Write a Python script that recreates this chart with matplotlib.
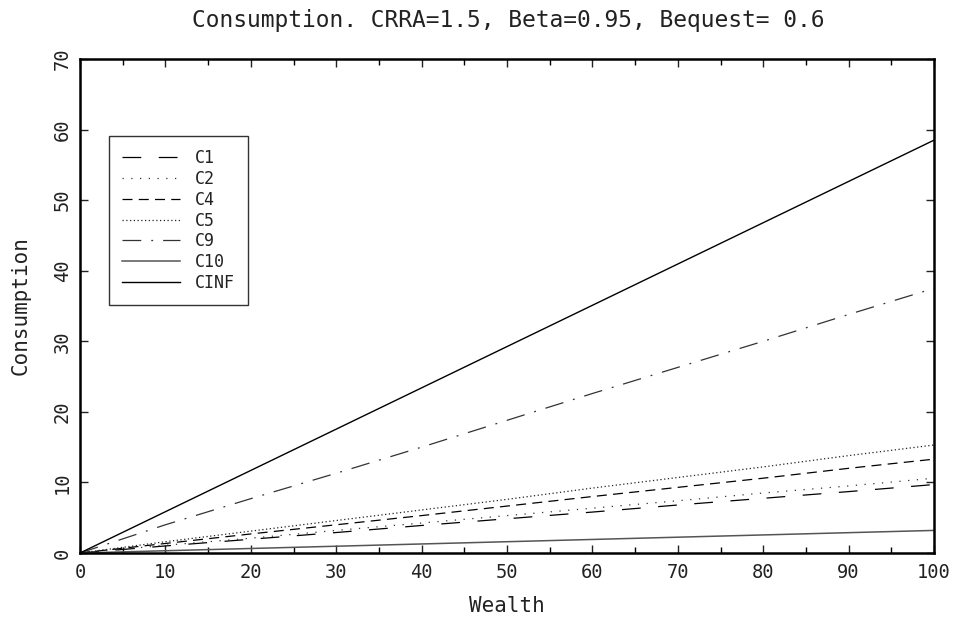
import matplotlib
matplotlib.use("Agg")
import matplotlib.pyplot as plt
from matplotlib.ticker import MultipleLocator

wealth = [0, 10, 20, 30, 40, 50, 60, 70, 80, 90, 100]
c1 = [0, 1.0, 1.95, 2.9, 3.9, 4.85, 5.8, 6.8, 7.75, 8.7, 9.7]
c2 = [0, 1.1, 2.1, 3.2, 4.25, 5.3, 6.35, 7.4, 8.5, 9.5, 10.6]
c4 = [0, 1.35, 2.7, 4.0, 5.3, 6.65, 8.0, 9.3, 10.6, 12.0, 13.3]
c5 = [0, 1.6, 3.1, 4.6, 6.1, 7.6, 9.2, 10.7, 12.2, 13.8, 15.3]
c9 = [0, 4.0, 7.7, 11.3, 15.0, 18.8, 22.6, 26.3, 30.0, 33.8, 37.5]
c10 = [0, 0.32, 0.64, 0.96, 1.28, 1.6, 1.92, 2.24, 2.56, 2.88, 3.2]
cinf = [0, 5.85, 11.7, 17.55, 23.4, 29.25, 35.1, 40.95, 46.8, 52.65, 58.5]

labels = ["C1", "C2", "C4", "C5", "C9", "C10", "CINF"]
title = "Consumption. CRRA=1.5, Beta=0.95, Bequest= 0.6"

plt.rcParams['font.family'] = ['DejaVu Sans Mono', 'DejaVu Sans']

fig = plt.figure(figsize=(9.59, 6.19), dpi=100)
ax = fig.add_axes([80/959, 1 - 553/619, (934-80)/959, (553-59)/619])

styles = [
    dict(color='black', lw=0.9, dashes=(15, 14)),
    dict(color='#333333', lw=0.9, dashes=(1, 6)),
    dict(color='black', lw=0.9, dashes=(8, 5)),
    dict(color='#222222', lw=0.9, dashes=(1, 2)),
    dict(color='#333333', lw=0.9, dashes=(15, 8, 1.5, 8)),
    dict(color='#555555', lw=1.1),
    dict(color='black', lw=1.0),
]
series = [c1, c2, c4, c5, c9, c10, cinf]
for s, lab, st in zip(series, labels, styles):
    ax.plot(wealth, s, label=lab, **st)

ax.set_xlim(0, 100)
ax.set_ylim(0, 70)
ax.xaxis.set_major_locator(MultipleLocator(10))
ax.xaxis.set_minor_locator(MultipleLocator(5))
ax.yaxis.set_major_locator(MultipleLocator(10))
ax.tick_params(axis='x', which='major', direction='in', length=6, width=1, top=True, labelsize=13.5, pad=7, colors='#222222')
ax.tick_params(axis='x', which='minor', direction='in', length=4, width=1, top=True)
ax.tick_params(axis='y', which='major', direction='in', length=6, width=1, right=True, labelsize=13.5, pad=6, colors='#222222')
for lab in ax.get_yticklabels():
    lab.set_rotation(90)
    lab.set_va('center')
for sp in ax.spines.values():
    sp.set_linewidth(1.8)

ax.set_xlabel("Wealth", fontsize=15, color='#222222')
ax.xaxis.set_label_coords(0.5, -(596 - 553) / 494)
ax.set_ylabel("Consumption", fontsize=15, color='#222222')
ax.yaxis.set_label_coords(-(80 - 31) / 854, 0.5)
fig.text(508/959, 1 - 21/619, title, ha='center', va='center', fontsize=16.5, color='#222222')

leg = ax.legend(loc='upper left', bbox_to_anchor=(29/854, (553-136)/494),
                prop={'family': 'DejaVu Sans Mono', 'size': 12},
                frameon=True, fancybox=False, handlelength=3.5,
                labelspacing=0.17, borderpad=0.78, handletextpad=0.85,
                borderaxespad=0)
leg.get_frame().set_edgecolor('black')
leg.get_frame().set_linewidth(1.0)
for t in leg.get_texts():
    t.set_color('#222222')

fig.savefig("out.png", dpi=100)
